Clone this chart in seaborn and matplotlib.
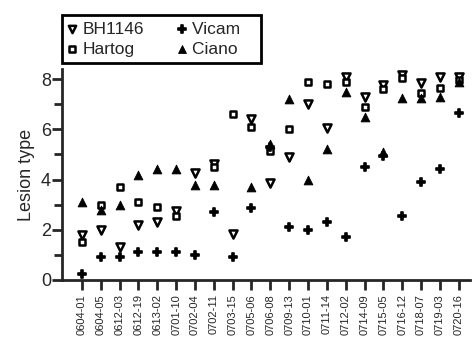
import numpy as np
import pandas as pd
import matplotlib
matplotlib.use("Agg")
import matplotlib.pyplot as plt
import seaborn as sns

samples = ["0604-01", "0604-05", "0612-03", "0612-19", "0613-02", "0701-10",
           "0702-04", "0702-11", "0703-15", "0705-06", "0706-08", "0709-13",
           "0710-01", "0711-14", "0712-02", "0714-09", "0715-05", "0716-12",
           "0718-07", "0719-03", "0720-16"]

bh1146 = [1.8, 2.0, 1.3, 2.2, 2.3, 2.75, 4.25, 4.6, 1.85, 6.4, 3.85,
          4.9, 7.0, 6.05, 8.1, 7.3, 7.75, 8.15, 7.85, 8.1, 8.1]
hartog = [1.5, 3.0, 3.7, 3.1, 2.9, 2.55, np.nan, 4.5, 6.6, 6.1, 5.15,
          6.0, 7.9, 7.8, 7.9, 6.9, 7.6, 8.05, 7.45, 7.65, 7.95]
vicam = [0.25, 0.9, 0.9, 1.1, 1.1, 1.1, 1.0, 2.7, 0.9, 2.85, 5.3,
         2.1, 2.0, 2.3, 1.7, 4.5, 4.95, 2.55, 3.9, 4.4, 6.65]
ciano = [3.1, 2.8, 3.0, 4.2, 4.4, 4.4, 3.8, 3.8, np.nan, 3.7, 5.4,
         7.2, 4.0, 5.2, 7.5, 6.5, 5.1, 7.25, 7.25, 7.3, 7.9]

series = {"BH1146": bh1146, "Hartog": hartog, "Vicam": vicam, "Ciano": ciano}

sns.set_style("ticks")
plt.rcParams["font.family"] = ["Liberation Sans", "DejaVu Sans"]

fig = plt.figure(figsize=(4.76, 3.55), dpi=100)
ax = fig.add_axes([62 / 476, 1 - 280 / 355, (470 - 62) / 476, (280 - 69) / 355])

pos = np.arange(len(samples))
styles = {
    "BH1146": dict(marker="v", facecolor="white", edgecolor="black", linewidth=1.8, s=34),
    "Hartog": dict(marker="s", facecolor="white", edgecolor="black", linewidth=1.8, s=24),
    "Vicam": dict(marker="P", color="black", edgecolor="black", linewidth=1.2, s=38),
    "Ciano": dict(marker="^", color="black", edgecolor="black", linewidth=0.6, s=40),
}
for name, vals in series.items():
    df = pd.DataFrame({"x": pos, "y": vals}).dropna()
    sns.scatterplot(data=df, x="x", y="y", ax=ax, label=name, zorder=3,
                    clip_on=False, **styles[name])

ax.set_xlim(-1.06, 20.6)
ax.set_ylim(0, 8.4)
ax.set_xticks(pos)
ax.set_xticklabels(samples, rotation=90, fontsize=8)
ax.set_yticks([0, 2, 4, 6, 8])
ax.set_yticks([1, 3, 5, 7], minor=True)
ax.tick_params(axis="y", which="major", length=7, width=2, labelsize=13, pad=1)
ax.tick_params(axis="y", which="minor", length=6, width=2)
ax.tick_params(axis="x", which="major", length=7, width=2, pad=3)
ax.set_xlabel("")
ax.set_ylabel("Lesion type", fontsize=13, labelpad=4)
sns.despine(ax=ax)
for sp in ["left", "bottom"]:
    ax.spines[sp].set_linewidth(2)

handles, labels = ax.get_legend_handles_labels()
order = ["BH1146", "Hartog", "Vicam", "Ciano"]
hmap = dict(zip(labels, handles))
shown = ["BH1146", "Hartog", "Vicam   ", "Ciano   "]
leg = ax.legend([hmap[k] for k in order], shown, ncol=2, loc="lower left",
                bbox_to_anchor=(0.0, 1.028), borderaxespad=0, frameon=True,
                fancybox=False, fontsize=12.5, handlelength=0.5,
                handletextpad=0.35, columnspacing=1.9, labelspacing=0.3,
                borderpad=0.35, markerscale=0.9)
leg.get_frame().set_edgecolor("black")
leg.get_frame().set_linewidth(2)
leg.get_frame().set_alpha(1)

fig.savefig("out.png", dpi=100)
